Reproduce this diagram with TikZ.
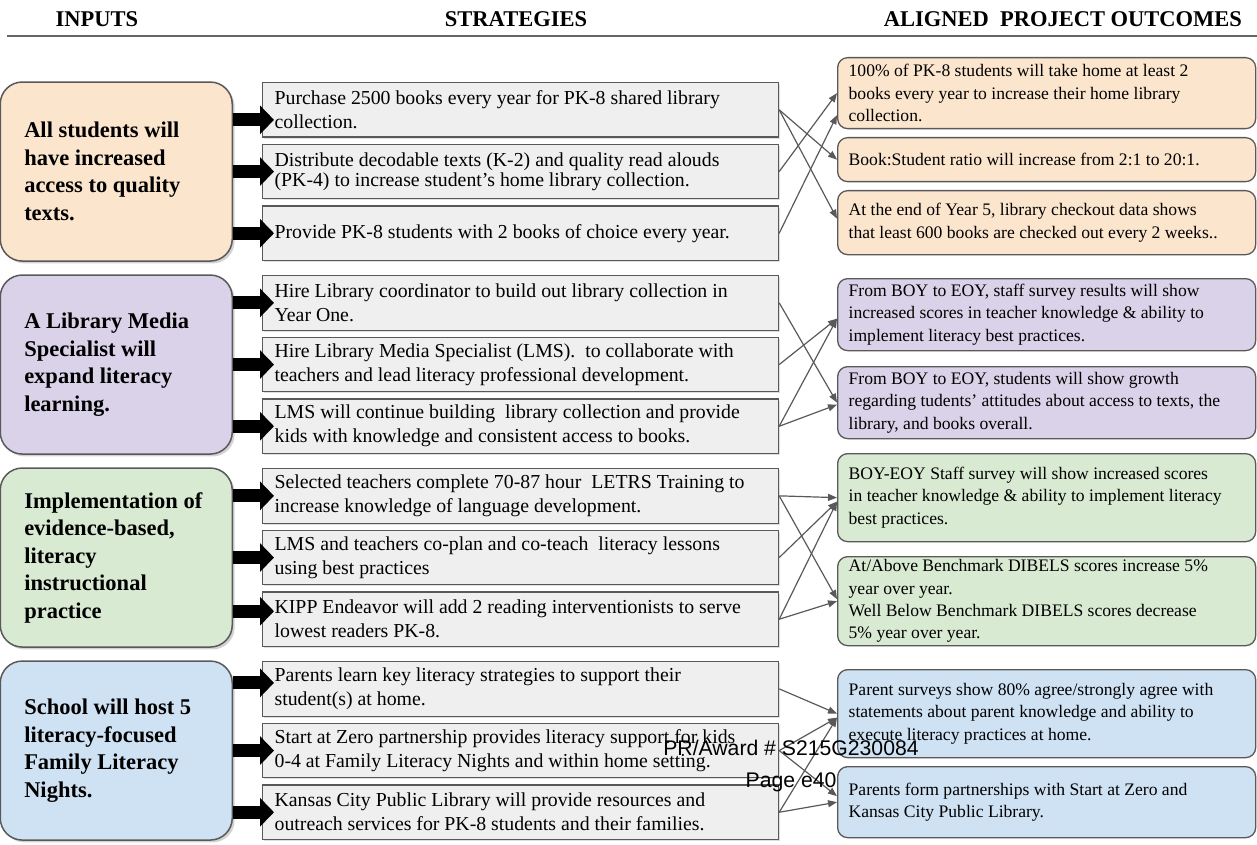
\documentclass[tikz,border=0pt]{standalone}
\usepackage{fontspec}
\setmainfont{Liberation Serif}
\newfontfamily\wmfont{Liberation Sans}
\usepackage{xcolor}
\usetikzlibrary{positioning,calc,arrows.meta,shadows}

\definecolor{peach}{HTML}{FCE5CD}
\definecolor{lavender}{HTML}{D9D2E9}
\definecolor{mint}{HTML}{D9EAD3}
\definecolor{sky}{HTML}{CFE2F3}
\definecolor{stratgray}{HTML}{EFEFEF}
\definecolor{edgegray}{HTML}{595959}
\definecolor{rulegray}{HTML}{666666}

\begin{document}
\begin{tikzpicture}[x=0.5pt, y=-0.5pt,
    input/.style={rectangle, draw=edgegray, line width=0.75pt, rounded corners=11pt, text width=92pt, inner xsep=12pt, minimum height=89.5pt, align=flush left, font=\fontsize{11.25}{13.75}\selectfont\bfseries, drop shadow={shadow xshift=1.2pt, shadow yshift=-1.2pt, opacity=0.35}},
    strategy/.style={rectangle, draw=edgegray, line width=0.6pt, fill=stratgray, text width=246pt, inner xsep=6pt, inner ysep=1pt, minimum height=27.25pt, align=flush left, font=\fontsize{9.9}{12}\selectfont, drop shadow={shadow xshift=0.6pt, shadow yshift=-0.8pt, opacity=0.25}},
    outcome/.style={rectangle, draw=edgegray, line width=0.65pt, rounded corners=5pt, text width=198pt, inner xsep=5.5pt, inner ysep=1pt, align=flush left, font=\fontsize{8.8}{11.15}\selectfont},
    header/.style={font=\fontsize{11.25}{13.75}\selectfont\bfseries},
    fat/.style={line width=6.5pt, -{Triangle[length=7pt,width=14pt]}},
    link/.style={draw=edgegray, line width=0.6pt, -{Triangle[length=4.5pt,width=3.5pt]}},
    stamp/.style={font=\wmfont\fontsize{10.6}{12}\selectfont}
  ]
    \useasboundingbox (0,0) rectangle (1257,845);

    % headings
    \node[header] (hin) at (97,19) {INPUTS};
    \node[header] (hstrat) at (516,19) {STRATEGIES};
    \node[header, anchor=east] (hout) at (1249,19) {ALIGNED\ \ PROJECT OUTCOMES};
    \draw[rulegray, line width=0.75pt] (7,36) -- (1257,36);

    % row 1
    \node[strategy, anchor=north west] (s1) at (262,82) {Purchase 2500 books every year for PK-8 shared library\\collection.};
    \node[strategy, below=3pt of s1, font=\fontsize{9.9}{8.6}\selectfont] (s2) {Distribute decodable texts (K-2) and quality read alouds\\(PK-4) to increase student’s home library collection.};
    \node[strategy, below=3pt of s2] (s3) {Provide PK-8 students with 2 books of choice every year.};
    \node[input, fill=peach, left=14.5pt of s2] (in1) {All students will\\have increased\\access to quality\\texts.};

    % row 2
    \node[strategy, anchor=north west] (s4) at (262,275) {Hire Library coordinator to build out library collection in\\Year One.};
    \node[strategy, below=3pt of s4] (s5) {Hire Library Media Specialist (LMS).\ \ to collaborate with\\teachers and lead literacy professional development.};
    \node[strategy, below=3pt of s5] (s6) {LMS will continue building\ \ library collection and provide\\kids with knowledge and consistent access to books.};
    \node[input, fill=lavender, left=14.5pt of s5] (in2) {A Library Media\\Specialist will\\expand literacy\\learning.};

    % row 3
    \node[strategy, anchor=north west] (s7) at (262,468) {Selected teachers complete 70-87 hour\ \ LETRS Training to\\increase knowledge of language development.};
    \node[strategy, below=3pt of s7] (s8) {LMS and teachers co-plan and co-teach\ \ literacy lessons\\using best practices};
    \node[strategy, below=3pt of s8] (s9) {KIPP Endeavor will add 2 reading interventionists to serve\\lowest readers PK-8.};
    \node[input, fill=mint, left=14.5pt of s8] (in3) {Implementation of\\evidence-based,\\literacy\\instructional\\practice};

    % row 4
    \node[strategy, anchor=north west] (s10) at (262,661) {Parents learn key literacy strategies to support their\\student(s) at home.};
    \node[strategy, below=3pt of s10] (s11) {Start at Zero partnership provides literacy support for kids\\0-4 at Family Literacy Nights and within home setting.};
    \node[strategy, below=3pt of s11] (s12) {Kansas City Public Library will provide resources and\\outreach services for PK-8 students and their families.};
    \node[input, fill=sky, left=14.5pt of s11] (in4) {School will host 5\\literacy-focused\\Family Literacy\\Nights.};

    % outcomes
    \node[outcome, fill=peach, anchor=north west, minimum height=35.5pt] (o1) at (837,57) {100\% of PK-8 students will take home at least 2\\books every year to increase their home library\\collection.};
    \node[outcome, fill=peach, anchor=north west, minimum height=22pt] (o2) at (837,137) {Book:Student ratio will increase from 2:1 to 20:1.};
    \node[outcome, fill=peach, anchor=north west, minimum height=32pt] (o3) at (837,190) {At the end of Year 5, library checkout data shows\\that least 600 books are checked out every 2 weeks..};
    \node[outcome, fill=lavender, anchor=north west, minimum height=36pt] (o4) at (837,278) {From BOY to EOY, staff survey results will show\\increased scores in teacher knowledge \& ability to\\implement literacy best practices.};
    \node[outcome, fill=lavender, anchor=north west, minimum height=36pt] (o5) at (837,366) {From BOY to EOY, students will show growth\\regarding tudents’ attitudes about access to texts, the\\library, and books overall.};
    \node[outcome, fill=mint, anchor=north west, minimum height=44pt] (o6) at (837,453) {BOY-EOY Staff survey will show increased scores\\in teacher knowledge \& ability to implement literacy\\best practices.};
    \node[outcome, fill=mint, anchor=north west, minimum height=44.5pt] (o7) at (837,556) {At/Above Benchmark DIBELS scores increase 5\%\\year over year.\\Well Below Benchmark DIBELS scores decrease\\5\% year over year.};
    \node[outcome, fill=sky, anchor=north west, minimum height=44pt] (o8) at (837,669) {Parent surveys show 80\% agree/strongly agree with\\statements about parent knowledge and ability to\\execute literacy practices at home.};
    \node[outcome, fill=sky, anchor=north west, minimum height=35.5pt] (o9) at (837,766) {Parents form partnerships with Start at Zero and\\Kansas City Public Library.};

    % inputs to strategies
    \draw[fat] ($(in1.east |- s1.west)+(0,10)$) -- ($(s1.west)+(12,10)$);
    \draw[fat] (in1.east |- s2.west) -- ($(s2.west)+(12,0)$);
    \draw[fat] (in1.east |- s3.west) -- ($(s3.west)+(12,0)$);
    \draw[fat] (in2.east |- s4.west) -- ($(s4.west)+(12,0)$);
    \draw[fat] (in2.east |- s5.west) -- ($(s5.west)+(12,0)$);
    \draw[fat] (in2.east |- s6.west) -- ($(s6.west)+(12,0)$);
    \draw[fat] (in3.east |- s7.west) -- ($(s7.west)+(12,0)$);
    \draw[fat] (in3.east |- s8.west) -- ($(s8.west)+(12,0)$);
    \draw[fat] ($(in3.east |- s9.west)+(0,-8)$) -- ($(s9.west)+(12,-8)$);
    \draw[fat] ($(in4.east |- s10.west)+(0,-6)$) -- ($(s10.west)+(12,-6)$);
    \draw[fat] (in4.east |- s11.west) -- ($(s11.west)+(12,0)$);
    \draw[fat] (in4.east |- s12.west) -- ($(s12.west)+(12,0)$);

    % strategies to outcomes
    \draw[link] (s1.east) -- (o2.west);
    \draw[link] (s1.east) -- ($(o3.west)+(0,-4)$);
    \draw[link] (s2.east) -- (o1.west);
    \draw[link] (s3.east) -- ($(o1.west)+(0,22)$);

    \draw[link] (s4.east) -- (o5.west);
    \draw[link] (s5.east) -- ($(o4.west)+(0,4)$);
    \draw[link] (s6.east) -- ($(o4.west)+(0,4)$);
    \draw[link] (s6.east) -- ($(o5.west)+(0,2)$);

    \draw[link] (s7.east) -- (o6.west);
    \draw[link] (s7.east) -- ($(o7.west)+(0,-2)$);
    \draw[link] (s8.east) -- ($(o6.west)+(0,4)$);
    \draw[link] (s9.east) -- ($(o6.west)+(0,4)$);
    \draw[link] (s9.east) -- (o7.west);

    \draw[link] (s10.east) -- (o8.west);
    \draw[link] (s11.east) -- ($(o8.west)+(0,4)$);
    \draw[link] (s11.east) -- ($(o9.west)+(0,-6)$);
    \draw[link] (s12.east) -- ($(o8.west)+(0,4)$);
    \draw[link] (s12.east) -- (o9.west);

    % page stamp
    \node[stamp] (award) at (791,748) {PR/Award \# S215G230084};
    \node[stamp] (page) at (791,782) {Page e40};
  \end{tikzpicture}
\end{document}
